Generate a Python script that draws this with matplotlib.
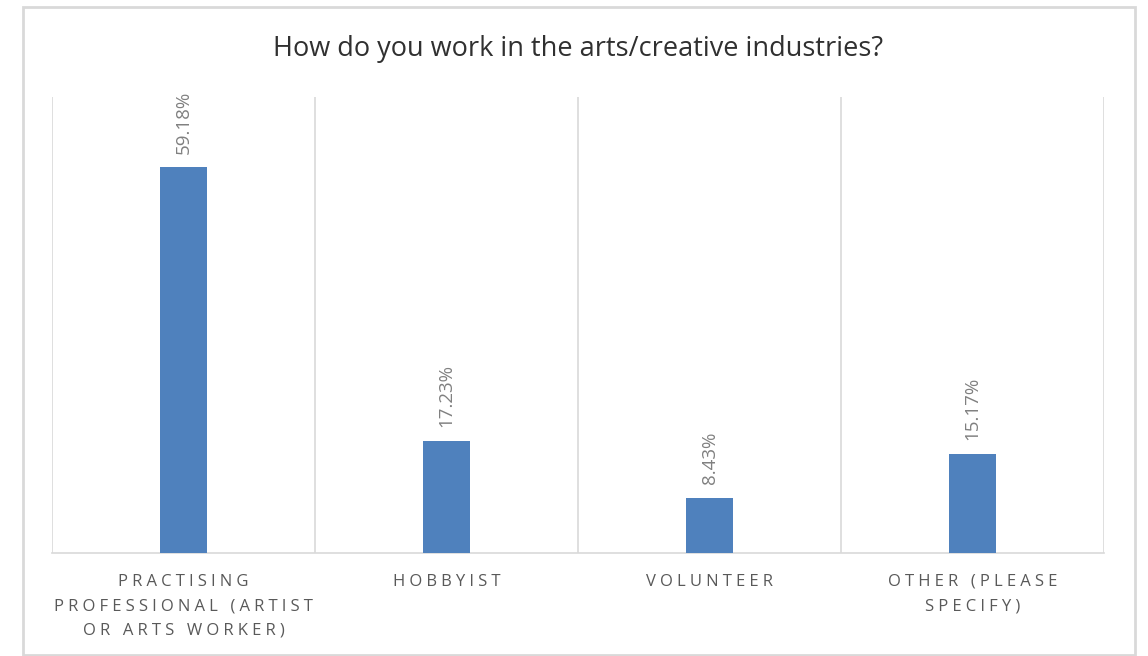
import matplotlib
matplotlib.use('Agg')
import matplotlib.pyplot as plt
from matplotlib.patches import Rectangle

categories = ['PRACTISING\nPROFESSIONAL (ARTIST\nOR ARTS WORKER)',
              'HOBBYIST',
              'VOLUNTEER',
              'OTHER (PLEASE\nSPECIFY)']
shares = [59.18, 17.23, 8.43, 15.17]
value_labels = ['59.18%', '17.23%', '8.43%', '15.17%']

plt.rcParams['font.family'] = ['Open Sans', 'DejaVu Sans']


def tracked(s, gap='\u2005'):
    # widen letter spacing line by line
    return '\n'.join(gap.join(line) for line in s.split('\n'))


fig = plt.figure(figsize=(11.48, 6.56), dpi=100)
fig.patch.set_facecolor('white')

# outer chart frame
fig.add_artist(Rectangle((23 / 1148, 1 / 656), 1112 / 1148, 648 / 656,
                         transform=fig.transFigure, fill=False,
                         edgecolor='#D9D9D9', linewidth=2))

ax = fig.add_axes([52 / 1148, 103 / 656, 1052 / 1148, 456 / 656])
x = range(len(categories))
ax.bar(x, shares, width=0.18, color='#4F81BD', zorder=3)

ax.set_xlim(-0.5, len(categories) - 0.5)
ax.set_ylim(0, 70)

# category separators
for b in [i - 0.5 for i in range(len(categories) + 1)]:
    ax.axvline(b, color='#D9D9D9', linewidth=1.2, zorder=1)

for s in ['top', 'left', 'right']:
    ax.spines[s].set_visible(False)
ax.spines['bottom'].set_color('#D9D9D9')
ax.spines['bottom'].set_linewidth(1.2)

ax.set_yticks([])
ax.set_xticks(list(x))
ax.set_xticklabels([tracked(c) for c in categories], color='#595959',
                   fontsize=12, linespacing=1.7, va='top')
ax.tick_params(axis='x', length=0, pad=15)

for i, (v, lab) in enumerate(zip(shares, value_labels)):
    ax.annotate(lab, (i, v), xytext=(0, 10), textcoords='offset points',
                rotation=90, ha='center', va='bottom',
                color='#808080', fontsize=13.5)

fig.text(578 / 1148, 1 - 49 / 656,
         'How do you work in the arts/creative industries?',
         ha='center', va='center', fontsize=19.5, color='#303030')

fig.savefig('out.png', dpi=100, facecolor='white')
